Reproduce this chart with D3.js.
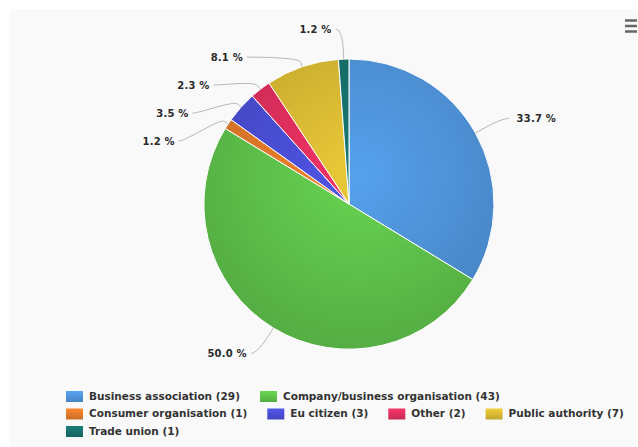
<!DOCTYPE html>
<html>
<head>
<meta charset="utf-8">
<script src="https://cdn.jsdelivr.net/npm/d3@7"></script>
<style>
  html, body { margin: 0; padding: 0; background: #ffffff; }
  svg { display: block; }
</style>
</head>
<body>
<svg id="chart" width="638" height="447"></svg>
<script>
// ---- data ----
const categories = ["Business association", "Company/business organisation", "Consumer organisation", "Eu citizen", "Other", "Public authority", "Trade union"];
const counts = [29, 43, 1, 3, 2, 7, 1];
const colors = ["#4f93d9", "#5fc24b", "#e27a2a", "#4a4ed3", "#df2f5d", "#d8b933", "#17706b"];

const W = 638, H = 447;
const svg = d3.select("#chart");
const defs = svg.append("defs");

// panel background
svg.append("rect").attr("x", 10).attr("y", 9).attr("width", W - 10).attr("height", H - 9).attr("fill", "#f9f9f9");

const cx = 349, cy = 204, r = 145, dist = 30;
const total = d3.sum(counts);
const fmt = d3.format(".1f");

// gradients (coordinates relative to the pie group)
colors.forEach((c, i) => {
  const g = defs.append("radialGradient").attr("id", "rg" + i)
    .attr("gradientUnits", "userSpaceOnUse")
    .attr("cx", 10).attr("cy", -30).attr("r", r * 1.2);
  g.append("stop").attr("offset", "0").attr("stop-color", d3.color(c).brighter(0.25));
  g.append("stop").attr("offset", "1").attr("stop-color", d3.color(c).darker(0.3));
  const lg = defs.append("linearGradient").attr("id", "lg" + i).attr("x1", 0).attr("y1", 0).attr("x2", 0).attr("y2", 1);
  lg.append("stop").attr("offset", "0").attr("stop-color", d3.color(c).brighter(0.3));
  lg.append("stop").attr("offset", "1").attr("stop-color", d3.color(c).darker(0.3));
});

const pie = d3.pie().sort(null).value(d => d)(counts);
const arc = d3.arc().innerRadius(0).outerRadius(r);

const gPie = svg.append("g").attr("transform", `translate(${cx},${cy})`);
gPie.selectAll("path").data(pie).join("path")
  .attr("d", arc)
  .attr("fill", (d, i) => `url(#rg${i})`)
  .attr("stroke", "#ffffff").attr("stroke-width", 1).attr("stroke-linejoin", "round");

// label positions (Highcharts-like)
const R = r + dist;
const labels = pie.map((d, i) => {
  const a = (d.startAngle + d.endAngle) / 2;
  return {
    i, a,
    left: Math.sin(a) < 0,
    y: cy - R * Math.cos(a),
    bx: cx + (r + 5) * Math.sin(a), by: cy - (r + 5) * Math.cos(a),
    ex: cx + r * Math.sin(a), ey: cy - r * Math.cos(a),
    text: fmt(d.data / total * 100) + " %"
  };
});
const spacing = 28;
[true, false].forEach(side => {
  const grp = labels.filter(l => l.left === side).sort((p, q) => p.y - q.y);
  for (let k = 1; k < grp.length; k++) {
    if (grp[k].y < grp[k - 1].y + spacing) grp[k].y = grp[k - 1].y + spacing;
  }
});
labels.forEach(l => {
  const dy = l.y - cy;
  const dx = Math.sqrt(Math.max(0, R * R - dy * dy));
  l.x = cx + (l.left ? -dx : dx);
});

const gLab = svg.append("g");
labels.forEach(l => {
  const s = l.left ? -1 : 1;
  const p = d3.path();
  p.moveTo(l.x + s * 7, l.y);
  p.bezierCurveTo(l.x, l.y, 2 * l.bx - l.ex, 2 * l.by - l.ey, l.bx, l.by);
  p.lineTo(l.ex, l.ey);
  gLab.append("path").attr("d", p.toString()).attr("fill", "none")
    .attr("stroke", "#b8b8b8").attr("stroke-width", 1);
  gLab.append("text")
    .attr("x", l.x + s * (l.left ? 11 : 15)).attr("y", l.y)
    .attr("dy", "0.35em")
    .attr("text-anchor", l.left ? "end" : "start")
    .attr("font-family", "DejaVu Sans, Verdana, sans-serif")
    .attr("font-weight", "bold").attr("font-size", 10)
    .attr("letter-spacing", 0.2)
    .attr("fill", "#2b2b2b")
    .text(l.text);
});

// legend
const gLeg = svg.append("g");
const legX0 = 66, legMax = 634, rowH = 17.5;
let lx = legX0, ly = 396;
categories.forEach((c, i) => {
  const item = gLeg.append("g");
  item.append("rect").attr("x", 0).attr("y", -5).attr("width", 17).attr("height", 11)
    .attr("fill", `url(#lg${i})`);
  const t = item.append("text").attr("x", 23).attr("y", 0).attr("dy", "0.35em")
    .attr("font-family", "DejaVu Sans, Verdana, sans-serif")
    .attr("font-weight", "bold").attr("font-size", 10.5)
    .attr("fill", "#333333")
    .text(`${c} (${counts[i]})`);
  const w = 23 + t.node().getComputedTextLength();
  if (lx + w > legMax && lx > legX0) { lx = legX0; ly += rowH; }
  item.attr("transform", `translate(${lx},${ly})`);
  lx += w + 20;
});

// menu icon
const gMenu = svg.append("g");
[20.5, 26, 31.5].forEach(y => {
  gMenu.append("line").attr("x1", 625).attr("x2", 637).attr("y1", y).attr("y2", y)
    .attr("stroke", "#666666").attr("stroke-width", 2.5);
});
</script>
</body>
</html>
